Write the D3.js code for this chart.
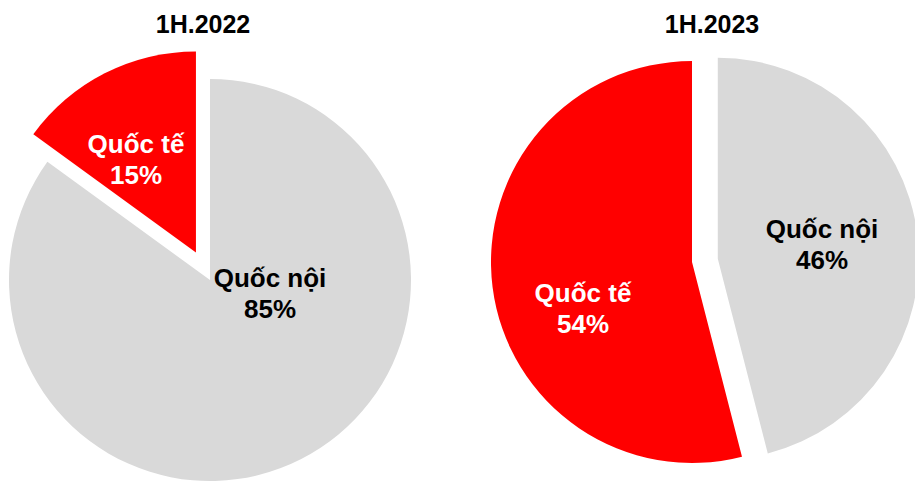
<!DOCTYPE html>
<html>
<head>
<meta charset="utf-8">
<script src="https://cdn.jsdelivr.net/npm/d3@7"></script>
<style>
  body { margin: 0; background: #fff; }
  svg { display: block; font-family: "Liberation Sans", Arial, sans-serif; }
</style>
</head>
<body>
<svg id="chart" width="915" height="481"></svg>
<script>
// data
var periods = ['1H.2022', '1H.2023'];
var categories = ['Quốc nội', 'Quốc tế'];
var values2022 = [85, 15];
var values2023 = [46, 54];

var colors = { 'Quốc nội': '#D9D9D9', 'Quốc tế': '#FF0000' };
var textColors = { 'Quốc nội': '#000000', 'Quốc tế': '#FFFFFF' };

// layout for each pie (centre, exploded slice offset, label anchors)
var layout = [
    { cx: 210, cy: 280, titleX: 203, explode: [0, 31], labels: [[270, 287], [136, 153]] },
    { cx: 692, cy: 262, titleX: 712, explode: [26, 0], labels: [[822, 238], [583, 302]] }
];
var radius = 201;

var svg = d3.select('#chart');
var pie = d3.pie().sort(null).value(function (d) { return d.value; });
var arc = d3.arc().innerRadius(0).outerRadius(radius);

[values2022, values2023].forEach(function (vals, i) {
    var L = layout[i];
    var data = categories.map(function (c, j) { return { name: c, value: vals[j], idx: j }; });

    svg.append('text')
        .attr('x', L.titleX)
        .attr('y', 33)
        .attr('text-anchor', 'middle')
        .style('font-size', '25px')
        .style('font-weight', 'bold')
        .style('fill', '#000')
        .text(periods[i]);

    var g = svg.append('g').attr('transform', 'translate(' + L.cx + ',' + L.cy + ')');

    g.selectAll('path')
        .data(pie(data))
        .enter().append('path')
        .attr('d', arc)
        .attr('fill', function (d) { return colors[d.data.name]; })
        .attr('transform', function (d) {
            var a = (d.startAngle + d.endAngle) / 2;
            var e = L.explode[d.data.idx];
            return 'translate(' + (Math.sin(a) * e) + ',' + (-Math.cos(a) * e) + ')';
        });

    //标签
    data.forEach(function (d, j) {
        var t = svg.append('text')
            .attr('text-anchor', 'middle')
            .style('font-size', '26px')
            .style('font-weight', 'bold')
            .style('fill', textColors[d.name]);
        t.append('tspan').attr('x', L.labels[j][0]).attr('y', L.labels[j][1]).text(d.name);
        t.append('tspan').attr('x', L.labels[j][0]).attr('y', L.labels[j][1] + 31).text(d.value + '%');
    });
});
</script>
</body>
</html>
